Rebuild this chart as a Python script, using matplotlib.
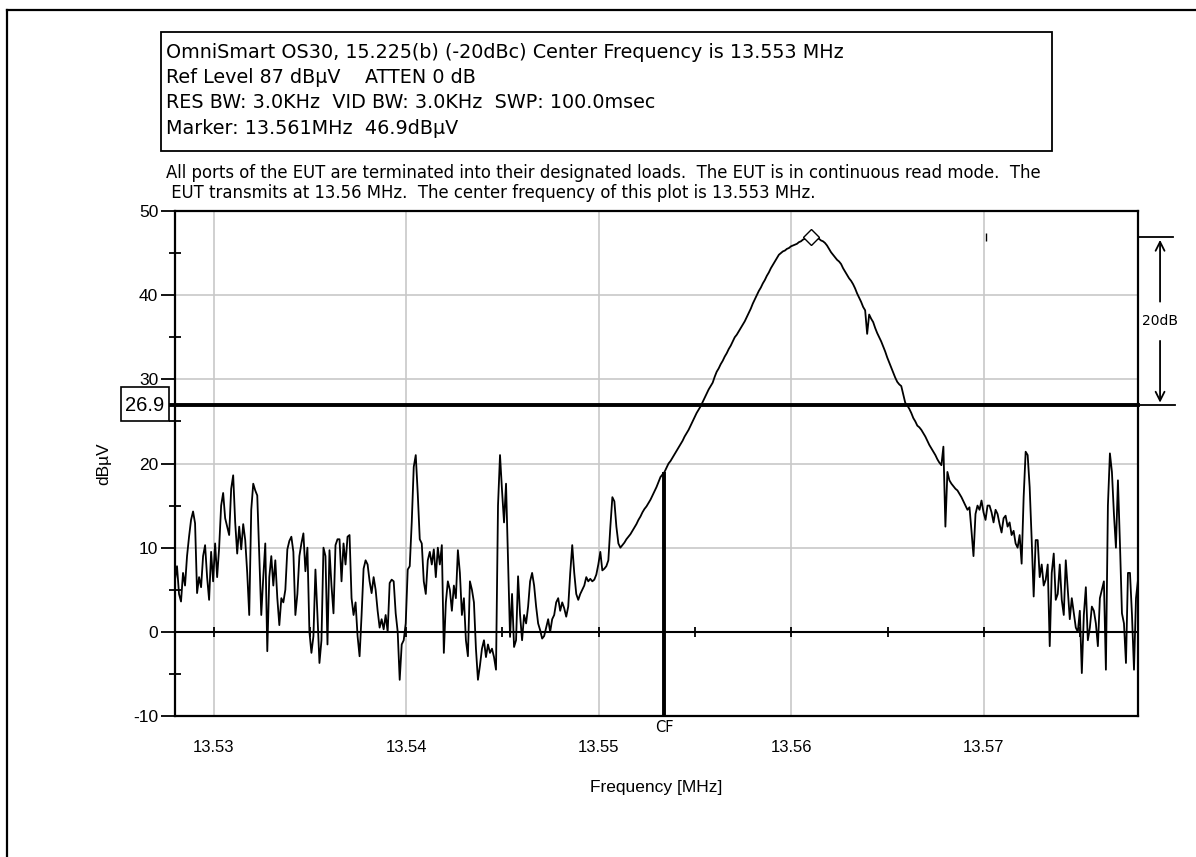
import matplotlib.pyplot as plt
import numpy as np
from matplotlib.patches import Rectangle
from matplotlib.lines import Line2D
from matplotlib.ticker import MultipleLocator

# sweep of the analyser (481 points)
f_start = 13.528
f_stop = 13.578
level = [6.2, 7.8, 4.5, 3.6, 7.0, 5.5, 9.0, 11.3, 13.3, 14.3,
         12.9, 4.6, 6.5, 5.3, 9.0, 10.3, 6.5, 3.8, 9.5, 6.0,
         10.5, 6.5, 10.0, 15.0, 16.5, 13.5, 12.5, 11.5, 17.0, 18.6,
         13.0, 9.3, 12.5, 9.8, 12.8, 10.9, 7.0, 2.0, 14.5, 17.6,
         16.8, 16.2, 9.0, 2.0, 6.5, 10.5, -2.3, 6.5, 9.0, 5.5,
         8.5, 4.0, 0.8, 4.0, 3.5, 5.0, 9.8, 10.8, 11.3, 9.5,
         2.0, 4.5, 9.0, 10.5, 11.7, 7.2, 10.0, 0.0, -2.5, -0.5,
         7.4, 2.0, -3.7, -1.0, 10.0, 9.0, -1.5, 9.7, 5.5, 2.2,
         10.3, 11.0, 11.0, 6.0, 10.5, 8.0, 11.3, 11.5, 4.0, 2.0,
         3.5, -0.5, -2.9, 2.0, 7.5, 8.5, 8.0, 6.0, 4.6, 6.5,
         5.0, 2.5, 0.5, 1.5, 0.3, 2.0, 0.0, 5.8, 6.2, 6.0,
         2.2, 0.0, -5.7, -1.5, -1.0, 1.0, 7.4, 7.8, 13.0, 19.6,
         21.0, 16.4, 11.0, 10.5, 6.0, 4.5, 8.5, 9.5, 8.0, 9.8,
         6.5, 10.0, 8.0, 10.3, -2.5, 3.5, 6.0, 5.0, 2.5, 5.5,
         4.0, 9.7, 7.0, 2.0, 4.0, -1.0, -2.9, 6.0, 5.0, 3.5,
         -2.0, -5.7, -4.0, -2.0, -1.0, -3.0, -1.5, -2.5, -2.0, -3.0,
         -4.5, 15.0, 21.0, 16.8, 13.0, 17.6, 8.5, -0.6, 4.5, -1.8,
         -1.0, 6.6, 2.0, -1.0, 2.0, 1.0, 3.0, 6.0, 7.0, 5.5,
         3.0, 1.0, 0.2, -0.8, -0.5, 0.5, 1.5, 0.0, 1.5, 2.0,
         3.5, 4.0, 2.5, 3.5, 2.8, 1.8, 3.0, 7.0, 10.3, 7.0,
         4.5, 3.8, 4.5, 5.0, 5.5, 6.5, 6.0, 6.3, 6.0, 6.2,
         6.8, 8.0, 9.5, 7.3, 7.5, 7.8, 8.5, 12.5, 16.0, 15.5,
         12.5, 10.5, 10.0, 10.3, 10.6, 11.0, 11.3, 11.6, 12.0, 12.4,
         12.8, 13.3, 13.7, 14.2, 14.6, 14.9, 15.3, 15.7, 16.2, 16.7,
         17.2, 17.8, 18.4, 18.7, 19.0, 19.5, 20.0, 20.3, 20.7, 21.1,
         21.5, 21.9, 22.3, 22.7, 23.2, 23.6, 24.0, 24.5, 25.0, 25.5,
         26.0, 26.4, 26.8, 27.3, 27.8, 28.3, 28.8, 29.2, 29.6, 30.3,
         30.9, 31.3, 31.8, 32.2, 32.7, 33.1, 33.6, 34.0, 34.5, 35.0,
         35.3, 35.7, 36.1, 36.5, 36.9, 37.4, 37.9, 38.4, 39.0, 39.5,
         40.0, 40.5, 40.9, 41.4, 41.8, 42.3, 42.7, 43.2, 43.6, 44.0,
         44.4, 44.8, 45.0, 45.2, 45.3, 45.5, 45.6, 45.8, 45.9, 46.0,
         46.1, 46.3, 46.4, 46.6, 46.7, 46.8, 46.9, 47.0, 46.9, 46.9,
         46.8, 46.7, 46.5, 46.4, 46.2, 45.9, 45.5, 45.1, 44.8, 44.5,
         44.2, 44.0, 43.7, 43.2, 42.8, 42.4, 42.0, 41.7, 41.3, 40.8,
         40.2, 39.7, 39.2, 38.6, 38.2, 35.4, 37.7, 37.2, 36.8, 36.1,
         35.5, 35.0, 34.5, 33.9, 33.3, 32.6, 32.0, 31.4, 30.8, 30.2,
         29.7, 29.4, 29.2, 28.2, 27.2, 26.9, 26.5, 26.0, 25.4, 25.0,
         24.5, 24.3, 24.0, 23.6, 23.2, 22.7, 22.2, 21.8, 21.4, 21.0,
         20.5, 20.1, 19.8, 22.0, 12.5, 19.0, 18.0, 17.6, 17.3, 17.0,
         16.8, 16.4, 16.0, 15.5, 15.0, 14.5, 14.8, 12.0, 9.0, 14.0,
         15.0, 14.5, 15.6, 14.2, 13.3, 15.0, 15.0, 14.2, 13.0, 14.5,
         14.0, 12.8, 11.8, 13.5, 13.8, 12.5, 13.0, 11.5, 12.0, 10.5,
         10.0, 11.5, 8.1, 16.0, 21.4, 21.0, 17.2, 11.0, 4.2, 10.9,
         10.9, 6.5, 8.0, 5.5, 6.2, 8.0, -1.7, 7.0, 9.3, 3.8,
         4.5, 8.0, 3.8, 2.0, 8.5, 5.0, 1.5, 4.0, 2.2, 0.5,
         0.0, 2.5, -4.9, 2.0, 5.3, -1.0, 0.5, 3.0, 2.5, 1.0,
         -1.7, 4.0, 5.0, 6.0, -4.5, 15.0, 21.2, 19.0, 14.0, 10.0,
         18.0, 10.5, 2.2, 1.0, -3.7, 7.0, 7.0, 2.0, -4.5, 4.0,
         6.2]

cf_line = 13.5534          # where the CF cursor is drawn
marker_f = 13.561
marker_v = 46.9
limit = 26.9
x_ticks = [13.53, 13.54, 13.55, 13.56, 13.57]
zero_ticks = [13.53, 13.535, 13.54, 13.545, 13.55, 13.555, 13.56, 13.565, 13.57, 13.575]
stray_f = 13.5701

header = ["OmniSmart OS30, 15.225(b) (-20dBc) Center Frequency is 13.553 MHz",
          "Ref Level 87 dB\u00b5V    ATTEN 0 dB",
          "RES BW: 3.0KHz  VID BW: 3.0KHz  SWP: 100.0msec",
          "Marker: 13.561MHz  46.9dB\u00b5V"]
note = ["All ports of the EUT are terminated into their designated loads.  The EUT is in continuous read mode.  The",
        " EUT transmits at 13.56 MHz.  The center frequency of this plot is 13.553 MHz."]

plt.rcParams["font.family"] = ["Liberation Sans", "DejaVu Sans"]
plt.rcParams["axes.unicode_minus"] = False

W, H = 1196, 857
fig = plt.figure(figsize=(W / 100, H / 100), dpi=100)

def fx(px):
    return px / W

def fy(py):
    return 1 - py / H

ax = fig.add_axes([fx(175), fy(716), fx(1138) - fx(175), fy(211) - fy(716)])
freq = np.linspace(f_start, f_stop, len(level))

ax.set_xlim(f_start, f_stop)
ax.set_ylim(-10, 50)
ax.set_xticks(x_ticks)
ax.set_xticklabels(["%.2f" % t for t in x_ticks])
ax.yaxis.set_major_locator(MultipleLocator(10))
ax.yaxis.set_minor_locator(MultipleLocator(5))
ax.grid(True, color="#c8c8c8", linewidth=1.2)
ax.set_axisbelow(True)
ax.tick_params(axis="x", length=0, pad=17, labelsize=12)
ax.tick_params(axis="y", which="major", direction="out", length=10, width=1.3, labelsize=12.5, pad=2)
ax.tick_params(axis="y", which="minor", direction="inout", length=9, width=1.3)
for s in ax.spines.values():
    s.set_linewidth(1.6)

ax.axhline(0, color="black", linewidth=1.5, zorder=2)
ax.vlines(zero_ticks, -0.6, 0.6, color="black", linewidth=1.3, zorder=2)

ax.plot(freq, level, color="black", linewidth=1.3, zorder=3)
ax.plot([marker_f], [marker_v], marker="D", markersize=8, markerfacecolor="white",
        markeredgecolor="black", markeredgewidth=1, zorder=4)
ax.vlines([stray_f], 46.4, 47.4, color="black", linewidth=1)

# limit line and CF cursor
tr = ax.get_yaxis_transform()
ax.plot([-0.007, 1.0], [limit, limit], color="black", linewidth=2.8, transform=tr, clip_on=False, zorder=4)
ax.vlines([cf_line], -10, np.interp(cf_line, freq, level), color="black", linewidth=2.8, zorder=4)
ax.text(cf_line, -10.5, "CF", ha="center", va="top", fontsize=10.5, family="DejaVu Sans", clip_on=False)

# 26.9 box left of the axis
ax.add_patch(Rectangle((-0.0563, 25.0), 0.05, 4.05, transform=tr, fc="white", ec="black",
                       lw=1.2, clip_on=False, zorder=6))
ax.text(-0.0313, limit, "%.1f" % limit, transform=tr, ha="center", va="center",
        fontsize=14.5, zorder=7, clip_on=False)

# 20 dB bracket on the right
ax.plot([1.0, 1.036], [marker_v, marker_v], color="black", linewidth=1.3, transform=tr, clip_on=False)
ax.plot([1.0, 1.038], [limit, limit], color="black", linewidth=1.3, transform=tr, clip_on=False)
mid = (marker_v + limit) / 2
ax.annotate("", xy=(1.0229, marker_v), xytext=(1.0229, mid + 2.0), xycoords=tr, textcoords=tr,
            arrowprops=dict(arrowstyle="->", color="black", lw=1.3, mutation_scale=16))
ax.annotate("", xy=(1.0229, limit), xytext=(1.0229, mid - 2.0), xycoords=tr, textcoords=tr,
            arrowprops=dict(arrowstyle="->", color="black", lw=1.3, mutation_scale=16))
ax.text(1.0229, mid, "%ddB" % round(marker_v - limit), transform=tr, ha="center", va="center",
        fontsize=10, family="DejaVu Sans")

ax.set_xlabel("Frequency [MHz]", fontsize=12.5, labelpad=18)
ax.set_ylabel("dB\u00b5V", fontsize=12.5, labelpad=16)

# header box
fig.add_artist(Rectangle((fx(161), fy(151)), fx(1052) - fx(161), fy(32) - fy(151),
                         transform=fig.transFigure, fill=False, ec="black", lw=1.3))
for i, line in enumerate(header):
    fig.text(fx(166), fy(52 + 25.5 * i), line, ha="left", va="center", fontsize=13.8,
             family="DejaVu Sans")
for i, line in enumerate(note):
    fig.text(fx(166), fy(173 + 19.5 * i), line, ha="left", va="center", fontsize=11.9,
             family="DejaVu Sans")

# outer frame
fig.add_artist(Line2D([fx(7), 1], [fy(10), fy(10)], color="black", lw=1.6))
fig.add_artist(Line2D([fx(7), fx(7)], [0, fy(10)], color="black", lw=1.6))

fig.savefig("out.png", dpi=100)
